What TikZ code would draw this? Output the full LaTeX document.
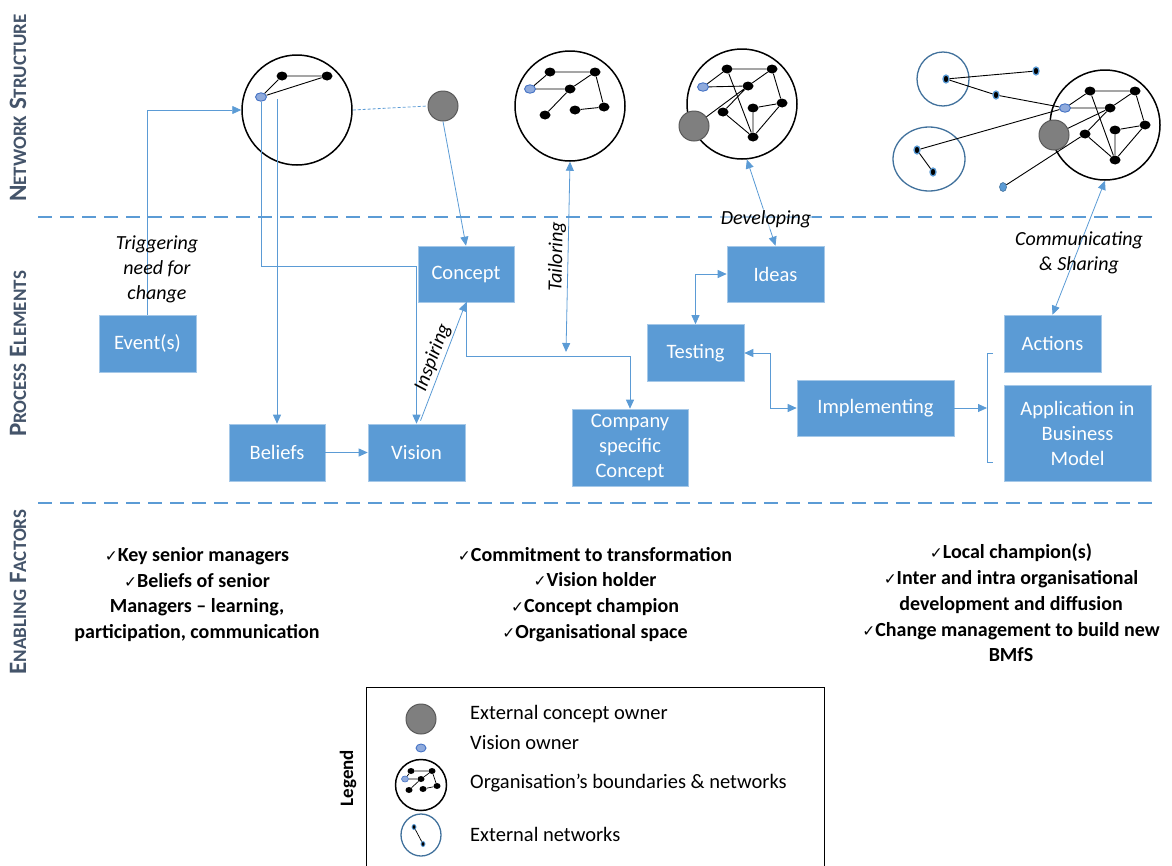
\documentclass[tikz,border=0pt]{standalone}
\usepackage{fontspec}
\setmainfont{Carlito}
\newfontfamily\djv{DejaVu Sans}
\usetikzlibrary{arrows.meta,shapes.geometric,calc}
\definecolor{bx}{HTML}{5B9BD5}
\definecolor{lbl}{HTML}{44546A}
\definecolor{gcol}{HTML}{7F7F7F}
\definecolor{vo}{HTML}{8FAADC}
\definecolor{voline}{HTML}{4472C4}
\definecolor{extc}{HTML}{41719C}
\newcommand\ck{{\djv\fontsize{15.5}{15.5}\selectfont ✓}}
\newcommand\bsc[2]{{\fontsize{25}{25}\selectfont #1}{\fontsize{19}{19}\selectfont #2}}
\newcommand\wsp{\hspace{6pt}}
\tikzset{
  >={Triangle[length=9pt,width=8pt]},
  box/.style={rectangle, fill=bx, draw=bx!55!white, line width=0.6pt, text=white,
    font=\fontsize{20.5}{25}\selectfont, align=center, inner sep=0pt},
  conn/.style={draw=bx, line width=0.8pt},
  net/.style={circle, draw=black, line width=1.5pt, minimum size=110pt, inner sep=0pt},
  dot/.style={ellipse, fill=black, minimum width=11pt, minimum height=9pt, inner sep=0pt},
  sdot/.style={ellipse, fill=black, minimum width=7pt, minimum height=6pt, inner sep=0pt},
  vown/.style={ellipse, fill=vo, draw=voline, line width=0.9pt, minimum width=11pt, minimum height=8.5pt, inner sep=0pt},
  eco/.style={circle, fill=gcol, draw=gcol!70!black, line width=1pt, minimum size=30pt, inner sep=0pt},
  edot/.style={ellipse, fill=black, draw=bx, line width=1.3pt, minimum width=6pt, minimum height=8pt, inner sep=0pt},
  extnet/.style={ellipse, draw=extc, line width=1.3pt, inner sep=0pt},
  link/.style={draw=black, line width=0.9pt},
  sep/.style={draw=bx, line width=2.6pt, dash pattern=on 14pt off 8pt},
  ital/.style={font=\itshape\fontsize{20}{25}\selectfont, align=center},
  side/.style={rotate=90, text=lbl, font=\bfseries},
  enab/.style={font=\bfseries\fontsize{20}{25.7}\selectfont, align=center},
  legt/.style={anchor=west, font=\fontsize{20.5}{24}\selectfont, inner sep=0pt}
}
\begin{document}
\begin{tikzpicture}[x=1pt,y=-1pt]
\useasboundingbox (0,0) rectangle (1172,865);

% separators
\coordinate (s1a) at (38,217); \coordinate (s1b) at (1155,217);
\coordinate (s2a) at (38,503); \coordinate (s2b) at (1155,503);
\draw[sep] (s1a) -- (s1b);
\draw[sep] (s2a) -- (s2b);

% side labels
\node[side] (lns) at (18,108) {\bsc{N}{ETWORK}\wsp\bsc{S}{TRUCTURE}};
\node[side] (lpe) at (18,354) {\bsc{P}{ROCESS}\wsp\bsc{E}{LEMENTS}};
\node[side] (lef) at (18,592) {\bsc{E}{NABLING}\wsp\bsc{F}{ACTORS}};

% process boxes
\node[box, minimum width=97pt, minimum height=57pt] (event) at (147.5,343.5) {Event(s)};
\node[box, minimum width=96pt, minimum height=57pt] (beliefs) at (277,452.5) {Beliefs};
\node[box, minimum width=97pt, minimum height=57pt] (vision) at (416.5,452.5) {Vision};
\node[box, minimum width=96pt, minimum height=56pt] (concept) at (466,274) {Concept};
\node[box, minimum width=116pt, minimum height=77pt] (company) at (630,447.5) {Company\\specific\\Concept};
\node[box, minimum width=97pt, minimum height=57pt] (testing) at (695.5,353) {Testing};
\node[box, minimum width=97pt, minimum height=56pt] (ideas) at (775.5,274) {Ideas};
\node[box, minimum width=157pt, minimum height=56pt] (impl) at (875.5,408) {Implementing};
\node[box, minimum width=97pt, minimum height=57pt] (actions) at (1052.5,343.5) {Actions};
\node[box, minimum width=147pt, minimum height=96pt] (appl) at (1077.5,433) {Application in\\Business\\Model};

% network 1
\node[net] (c1) at (297,110) {};
\node[dot] (n1a) at (282,76) {};
\node[dot] (n1b) at (327,76) {};
\node[vown] (vo1) at (261,97) {};
\draw[link] (vo1) -- (n1a) -- (n1b) -- (vo1);
\node[eco] (eco1) at (443,106) {};

% network 2
\node[net] (c2) at (570,106) {};
\node[vown] (vo2) at (530,89) {};
\node[dot] (n2a) at (550,72) {};
\node[dot] (n2b) at (595,72) {};
\node[dot] (n2c) at (570,89) {};
\node[dot] (n2d) at (545,115) {};
\node[dot] (n2e) at (575,110) {};
\node[dot] (n2f) at (604,107) {};
\draw[link] (vo2) -- (n2a) -- (n2b) -- (n2c) -- (vo2);
\draw[link] (n2c) -- (n2d);
\draw[link] (n2e) -- (n2f) -- (n2b);

% network 3
\node[net] (c3) at (742,104) {};
\node[vown] (vo3) at (703,87) {};
\node[dot] (n3a) at (727,69) {};
\node[dot] (n3b) at (772,69) {};
\node[dot] (n3c) at (748,86) {};
\node[dot] (n3d) at (723,112) {};
\node[dot] (n3e) at (753,108) {};
\node[dot] (n3f) at (782,103) {};
\node[dot] (n3g) at (753,137) {};
\node[eco] (eco3) at (694,126) {};
\draw[link] (vo3) -- (n3a) -- (n3b) -- (n3c) -- (vo3);
\draw[link] (n3b) -- (n3f) -- (n3e) -- (n3g) -- (n3f);
\draw[link] (n3d) -- (n3g) -- (n3a);
\draw[link] (eco3) -- (n3c) -- (n3d);

% network 4
\node[extnet, minimum width=52pt, minimum height=54pt] (x1) at (943,79) {};
\node[extnet, minimum width=72pt, minimum height=64pt] (x2) at (929,159) {};
\node[net] (c4) at (1105,125) {};
\node[vown] (vo4) at (1065,108) {};
\node[dot] (n4a) at (1090,91) {};
\node[dot] (n4b) at (1135,91) {};
\node[dot] (n4c) at (1110,108) {};
\node[dot] (n4d) at (1085,134) {};
\node[dot] (n4e) at (1115,130) {};
\node[dot] (n4f) at (1145,125) {};
\node[dot] (n4g) at (1115,160) {};
\node[eco] (eco4) at (1054,135) {};
\node[edot] (e1) at (946,79) {};
\node[edot] (e2) at (1036,71) {};
\node[edot] (e3) at (996,95) {};
\node[edot] (e4) at (917,150) {};
\node[edot] (e5) at (933,172) {};
\node[ellipse, fill=bx, draw=extc, line width=0.6pt, minimum width=7pt, minimum height=9pt, inner sep=0pt] (e6) at (1003,187) {};
\draw[link] (vo4) -- (n4a) -- (n4b) -- (n4c) -- (vo4);
\draw[link] (n4b) -- (n4f) -- (n4e) -- (n4g) -- (n4f);
\draw[link] (n4d) -- (n4g) -- (n4a);
\draw[link] (eco4) -- (n4c) -- (n4d);
\draw[link] (e2) -- (e1) -- (e3) -- (vo4);
\draw[link] (e5) -- (e4) -- (vo4);
\draw[link] (e6) -- (n4d);

% connectors
\coordinate (b0) at (277,99);
\draw[conn,->] (event.north) |- (c1.west);
\draw[conn, dash pattern=on 3pt off 2pt] (c1.east) -- (eco1.west);
\draw[conn,->] (eco1.south) -- (concept.north);
\draw[conn,->] (b0) -- (beliefs.north);
\draw[conn,->] (vo1.south) -- ++(0,165) -| (vision.north);
\draw[conn,->] (beliefs.east) -- (vision.west);
\draw[conn,->] ($(vision.north)+(4,-3)$) -- node[midway, sloped, above, ital, inner sep=2pt] {Inspiring} (concept.south);
\draw[conn,->] (concept.south) -- ++(0,54) -| (company.north);
\coordinate (tl) at (566,352);
\draw[conn,<->] (tl) -- node[midway, sloped, above, ital, inner sep=2pt] {Tailoring} (c2.south);
\draw[conn,<->] (c3.-85) -- (ideas.north);
\node[ital, fill=white, fill opacity=0.5, text opacity=1, inner sep=1pt] (dev) at (766,219) {Developing};
\draw[conn,<->] (testing.north) |- (ideas.west);
\draw[conn,<->] (testing.east) -- ++(26,0) |- (impl.west);
\coordinate (br) at (987,408);
\draw[conn,->] (impl.east) -- (br);
\coordinate (bt) at (993,353); \coordinate (bb) at (993,462);
\draw[draw=bx, line width=0.8pt] (bt) -- ++(-6,0) -- ++(0,109) -- (bb);
\draw[conn,<->] (c4.south) -- (actions.north);

% process labels
\node[ital] (trig) at (157,269) {Triggering\\need for\\change};
\node[ital] (comm) at (1079,253) {Communicating\\\& Sharing};

% enabling factors
\node[enab] (ef1) at (197,594.5) {\ck Key senior managers\\\ck Beliefs of senior\\Managers -- learning,\\participation, communication};
\node[enab] (ef2) at (595,594.5) {\ck Commitment to transformation\\\ck Vision holder\\\ck Concept champion\\\ck Organisational space};
\node[enab] (ef3) at (1011,603) {\ck Local champion(s)\\\ck Inter and intra organisational\\development and diffusion\\\ck Change management to build new\\BMfS};

% legend
\node[draw=black, line width=1.2pt, minimum width=458pt, minimum height=200pt, anchor=north west, inner sep=0pt] (legbox) at (366,687) {};
\node[rotate=90, font=\bfseries\fontsize{19}{19}\selectfont] (legtitle) at (348,778) {Legend};
\node[eco] (leco) at (421,719) {};
\node[vown, minimum width=10pt, minimum height=8pt] (lvo) at (421,748) {};
\node[circle, draw=black, line width=1.5pt, minimum size=51pt, inner sep=0pt] (lnet) at (421,785) {};
\node[sdot] (ld1) at (411,771) {};
\node[sdot] (ld2) at (432,771) {};
\node[sdot] (ld3) at (421,779) {};
\node[sdot] (ld4) at (409,790) {};
\node[sdot] (ld5) at (423,789) {};
\node[sdot] (ld6) at (437,786) {};
\node[vown, minimum width=7pt, minimum height=6pt, line width=0.6pt] (lv) at (405,779) {};
\draw[link, line width=0.7pt] (lv) -- (ld1) -- (ld2) -- (ld3) -- (lv);
\draw[link, line width=0.7pt] (ld3) -- (ld4);
\draw[link, line width=0.7pt] (ld5) -- (ld6) -- (ld2);
\node[extnet, minimum width=40pt, minimum height=42pt] (lext) at (421,835) {};
\node[edot, minimum width=4pt, minimum height=5pt, line width=0.9pt] (le1) at (414,827) {};
\node[edot, minimum width=4pt, minimum height=5pt, line width=0.9pt] (le2) at (423,844) {};
\draw[link, line width=0.7pt] (le1) -- (le2);
\node[legt] (lt1) at (470,714) {External concept owner};
\node[legt] (lt2) at (470,743) {Vision owner};
\node[legt] (lt3) at (470,783) {Organisation’s boundaries \& networks};
\node[legt] (lt4) at (470,834) {External networks};
\end{tikzpicture}
\end{document}
